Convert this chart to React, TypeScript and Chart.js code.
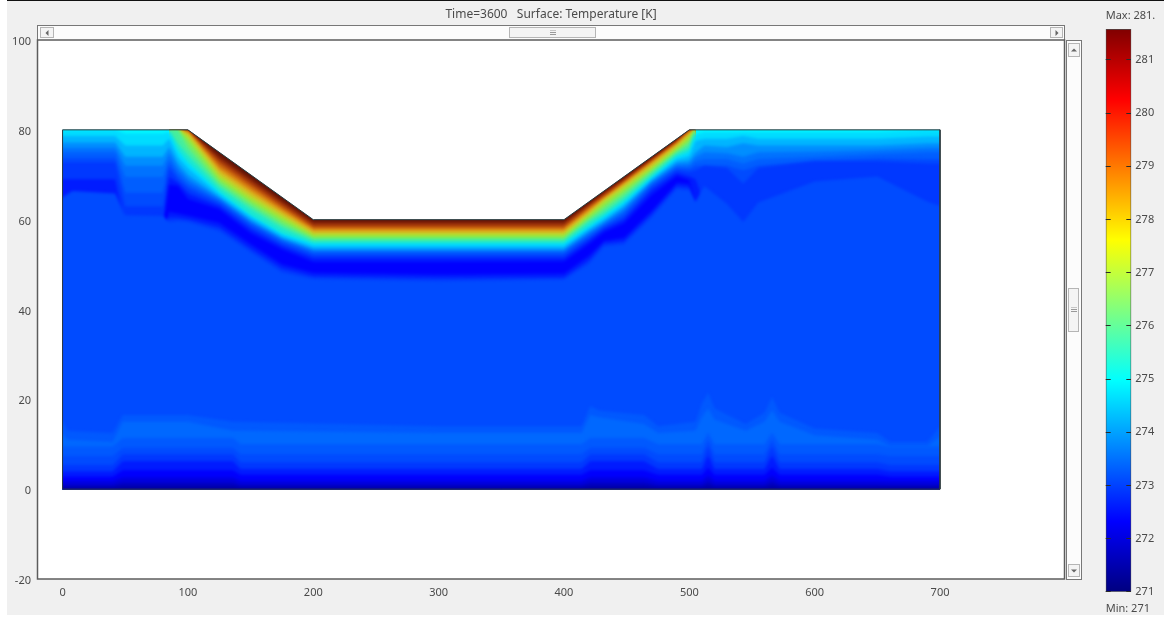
import React, { useEffect, useRef } from "react";
import { Chart, registerables } from "chart.js";

Chart.register(...registerables);

const FONT = '"Noto Sans", "Open Sans", sans-serif';
const INK = "#4a4a4a";

const titleText = "Time=3600   Surface: Temperature [K]";
const maxText = "Max: 281.";
const minText = "Min: 271";
const colorMin = 271;
const colorMax = 281.58;

// Outline of the embankment section
const outlineX = [0, 0, 100, 200, 400, 500, 700, 700, 0];
const outlineY = [0, 80, 80, 60, 60, 80, 80, 0, 0];

// Isotherm heights (y) at irregular stations, upper hot skin
const hotStations = [85, 92, 100, 125, 150, 175, 200, 300, 400, 420, 432, 448, 470, 490, 500, 505];
const hot281_5 = [82.5, 82.5, 82.5, 77.5, 72.5, 67.5, 62.6, 62.6, 62.6, 66.5, 68.9, 72.1, 76.5, 80.5, 82.5, 82.5];
const hot281_0 = [80, 80, 80, 74.3, 69.3, 64.4, 59.6, 59.6, 59.6, 63.6, 66.1, 69.3, 73.7, 77.8, 80, 80];
const hot280_5 = [80, 80, 79.9, 73.7, 68.8, 63.9, 59.2, 59.2, 59.2, 63.3, 65.8, 69, 73.5, 77.6, 79.9, 80];
const hot280_0 = [80, 80, 79.8, 73.1, 68.2, 63.4, 58.7, 58.7, 58.7, 63, 65.5, 68.7, 73.2, 77.4, 79.8, 80];
const hot279_5 = [80, 80, 79.7, 72.5, 67.6, 62.9, 58.3, 58.3, 58.3, 62.7, 65.2, 68.4, 73, 77.2, 79.7, 80];
const hot279_0 = [80, 80, 79.6, 72, 67.2, 62.5, 58, 58, 58, 62.4, 64.9, 68.2, 72.8, 77, 79.5, 80];
const hot278_5 = [80, 80, 79.4, 71.4, 66.6, 62.1, 57.7, 57.7, 57.7, 62.1, 64.7, 68, 72.6, 76.8, 79.3, 80];
const hot278_0 = [80, 80, 79.2, 71, 66.2, 61.7, 57.4, 57.4, 57.4, 61.8, 64.5, 67.8, 72.4, 76.6, 79.1, 80];
const hot277_5 = [80, 80, 79, 70.5, 65.7, 61.3, 57.1, 57.1, 57.1, 61.5, 64.3, 67.6, 72.1, 76.4, 78.9, 80];
const hot277_0 = [80, 80, 78.7, 70, 65.2, 60.9, 56.8, 56.8, 56.8, 61.2, 64.1, 67.3, 71.8, 76.1, 78.6, 80];
const hot276_5 = [80, 80, 78.2, 69.4, 64.6, 60.4, 56.5, 56.5, 56.5, 60.9, 63.7, 66.9, 71.4, 75.8, 78.2, 80];
const hot276_0 = [80, 80, 77.5, 68.8, 64, 59.8, 56.1, 56.1, 56.1, 60.5, 63.1, 66.3, 71, 75.4, 77.6, 80];
const hot275_5 = [80, 80, 76, 68, 63.2, 59, 55.7, 55.7, 55.7, 60, 62.4, 65.6, 70.6, 75, 77, 80];
const hot275_0 = [80, 77, 74.4, 67.2, 62.4, 58.2, 55.2, 55.2, 55.2, 59.5, 61.5, 64.8, 70, 74.6, 76, 79.5];
// Shades as they appear in the thin hot skin of the picture
const hotShades: Record<number, string> = {
  281.5: "#5e1408",
  281: "#7c1e08",
  280.5: "#9a300a",
  280: "#b4480c",
  279.5: "#c8620e",
  279: "#d67e12",
  278.5: "#dc9a18",
  278: "#d8b41e",
  277.5: "#ccc826",
  277: "#b4dc30",
  276.5: "#96e83e",
  276: "#70ee6a",
  275.5: "#46ee9e",
  275: "#1ce8d0",
};

// Cooler isotherms under the surface
const coolStations = [-6, 8, 42, 50, 80, 85, 92, 100, 125, 150, 175, 200, 300, 400, 420, 432, 448, 470, 490, 500, 505, 512, 530, 543, 555, 600, 650, 690, 706];
const overSurface = [82.5, 82.5, 82.5, 82.5, 82.5, 82.5, 82.5, 82.5, 77.5, 72.5, 67.5, 62.5, 62.5, 62.5, 66.5, 68.9, 72.1, 76.5, 80.5, 82.5, 82.5, 82.5, 82.5, 82.5, 82.5, 82.5, 82.5, 82.5, 82.5];
const cool274_6 = [80, 80, 80, 79.2, 79.2, 79.5, 75.5, 72.8, 66.2, 61, 57, 54.7, 54.7, 54.7, 58.5, 60.8, 64, 69.4, 74, 75.2, 79, 79.5, 79.5, 79.6, 79.5, 79.5, 79.5, 80, 80];
const cool274_2 = [78.6, 78.6, 78.6, 76.5, 76.5, 78, 74, 71.5, 65.6, 60.6, 56.5, 54.1, 54.1, 54.1, 58, 60.2, 63.4, 69, 73.4, 74.2, 77.5, 78, 78, 78.6, 78, 78, 78, 78.5, 78.5];
const cool273_8 = [77.2, 77.2, 77.2, 74, 74, 76.2, 72.6, 70, 65, 60, 56, 53.5, 53.5, 53.5, 57.5, 59.6, 62.8, 68.6, 72.8, 73.2, 75, 76.5, 76.2, 77, 76.5, 76.5, 76.5, 77, 77];
const cool273_5 = [76, 76, 76, 72, 72, 74.8, 71.5, 69, 64.6, 59.5, 55.6, 53.1, 53.1, 53.1, 57, 59.2, 62.2, 68.2, 72.2, 72.4, 74, 75, 74.8, 74, 75, 75.2, 75.5, 76, 76];
const cool273_3 = [75, 75, 75, 69.5, 69.5, 73.4, 70.5, 68.2, 64.2, 59.2, 55.3, 52.8, 52.8, 52.8, 56.6, 58.8, 61.7, 67.9, 71.8, 71.8, 73, 73.5, 73.5, 72.5, 73.5, 74, 74.6, 75, 75];
const cool273_1 = [73.8, 73.8, 73.8, 66, 66, 72.4, 69.6, 67.5, 63.9, 58.8, 55, 52.4, 52.4, 52.4, 56.2, 58.5, 61.2, 67.5, 71.4, 71.2, 72, 72, 72, 71, 72, 73, 73.6, 73.5, 73.5];
const cool272_9 = [72.8, 72.8, 72.8, 63, 63, 71.4, 68.9, 66.8, 63.5, 58.4, 54.6, 52, 52, 52, 55.8, 58.2, 60.6, 67.1, 71, 70.6, 71, 72, 71.5, 68, 71.5, 73, 73, 72.5, 72.5];
const cool272_6 = [69, 69, 69, 58, 58, 69.5, 68.2, 65.8, 63, 57.8, 54.1, 51.4, 51.4, 51.4, 55.3, 57.8, 60, 66.5, 70.4, 69.6, 69, 63.5, 59.5, 55.5, 59.8, 64.5, 65.6, 60, 58.5];
const cool272_3 = [61, 63, 63, 58, 58, 67.8, 67.5, 64.6, 62.3, 57, 53.4, 50.6, 50.6, 50.7, 54.6, 57.2, 59.2, 65.5, 69.7, 68.8, 60, 63.5, 59.5, 55.5, 59.8, 64.5, 65.6, 60, 58.5];
const rise272_6 = [61, 63, 63, 58, 58, 61.7, 61.4, 60.9, 59.3, 54.6, 50.1, 48.2, 47.8, 48, 52, 55.3, 56, 62, 68.2, 68, 60, 63.5, 59.5, 55.5, 59.8, 64.5, 65.6, 60, 58.5];
const rise272_9 = [61, 63, 63, 58, 58, 60.5, 60.4, 60.1, 58.3, 53.6, 49.2, 47.4, 47, 47.2, 51, 54.7, 55.2, 61.2, 67.5, 67.2, 60, 63.5, 59.5, 55.5, 59.8, 64.5, 65.6, 60, 58.5];
const rise273_1 = [64, 66.4, 65.8, 61, 60.8, 59.5, 59.7, 59.5, 57.5, 52.8, 48.3, 46.8, 46.3, 46.6, 50.2, 54, 54.5, 60.5, 66.8, 66.5, 64, 67.5, 63.5, 59.5, 63.8, 68.5, 69.6, 64, 62.5];

// Isotherms near the base
const baseStations = [-6, 4, 40, 48, 100, 136, 142, 300, 414, 421, 428, 464, 475, 505, 510, 515, 520, 545, 560, 566, 572, 600, 650, 660, 690, 706];
const bump273_25 = [18, 13, 12.5, 16.5, 16.5, 15, 15, 14, 14, 18.5, 17.5, 16.5, 14, 15, 19, 21.5, 18, 14.5, 17, 20.5, 17, 13.5, 12.5, 10.5, 10.5, 16];
const bump273_4 = [14, 11, 10.5, 15, 15, 13, 13, 12.5, 12.5, 16.5, 16, 14.5, 12.5, 13, 16, 18, 15.5, 13, 15, 17.5, 15, 12, 11, 9.5, 9.5, 13];
const base273_25 = [9.5, 9.5, 9.5, 11.4, 11.4, 11.4, 10, 10, 10, 11.4, 11.4, 11.4, 10, 10, 10, 12.6, 10, 10, 10, 12.6, 10, 10, 10, 9.5, 9.5, 9.5];
const base273_1 = [7.4, 7.4, 7.4, 9.2, 9.2, 9.2, 7.8, 7.8, 7.8, 9.2, 9.2, 9.2, 7.8, 7.8, 7.8, 11, 7.8, 7.8, 7.8, 11, 7.8, 7.8, 7.8, 7.4, 7.4, 7.4];
const base272_9 = [5.4, 5.4, 5.4, 7.8, 7.8, 7.8, 6, 6, 6, 7.8, 7.8, 7.8, 6, 6, 6, 9.6, 6, 6, 6, 9.6, 6, 6, 6, 5.4, 5.4, 5.4];
const base272_6 = [4, 4, 4, 6.2, 6.2, 6.2, 4.5, 4.5, 4.5, 6.2, 6.2, 6.2, 4.5, 4.5, 4.5, 7.5, 4.5, 4.5, 4.5, 7.5, 4.5, 4.5, 4.5, 4, 4, 4];
const base272_3 = [2.8, 2.8, 2.8, 4.2, 4.2, 4.2, 3.2, 3.2, 3.2, 4.2, 4.2, 4.2, 3.2, 3.2, 3.2, 4.8, 3.2, 3.2, 3.2, 4.8, 3.2, 3.2, 3.2, 2.8, 2.8, 2.8];
const base272_0 = [1.8, 1.8, 1.8, 2.6, 2.6, 2.6, 1.9, 1.9, 1.9, 2.6, 2.6, 2.6, 1.9, 1.9, 1.9, 3, 1.9, 1.9, 1.9, 3, 1.9, 1.9, 1.9, 1.8, 1.8, 1.8];
const base271_7 = [0.9, 0.9, 0.9, 1.5, 1.5, 1.5, 1, 1, 1, 1.5, 1.5, 1.5, 1, 1, 1, 1.7, 1, 1, 1, 1.7, 1, 1, 1, 0.9, 0.9, 0.9];
const base271_4 = [0.4, 0.4, 0.4, 0.7, 0.7, 0.7, 0.4, 0.4, 0.4, 0.7, 0.7, 0.7, 0.4, 0.4, 0.4, 0.8, 0.4, 0.4, 0.4, 0.8, 0.4, 0.4, 0.4, 0.4, 0.4, 0.4];

// Paint order: every band floods down past y=0, the next one paints over it
const bands: [number, number[], number[]][] = [
  [274.9, coolStations, overSurface],
  [281.5, hotStations, hot281_5],
  [281.0, hotStations, hot281_0],
  [280.5, hotStations, hot280_5],
  [280.0, hotStations, hot280_0],
  [279.5, hotStations, hot279_5],
  [279.0, hotStations, hot279_0],
  [278.5, hotStations, hot278_5],
  [278.0, hotStations, hot278_0],
  [277.5, hotStations, hot277_5],
  [277.0, hotStations, hot277_0],
  [276.5, hotStations, hot276_5],
  [276.0, hotStations, hot276_0],
  [275.5, hotStations, hot275_5],
  [275.0, hotStations, hot275_0],
  [274.6, coolStations, cool274_6],
  [274.2, coolStations, cool274_2],
  [273.8, coolStations, cool273_8],
  [273.5, coolStations, cool273_5],
  [273.3, coolStations, cool273_3],
  [273.1, coolStations, cool273_1],
  [272.9, coolStations, cool272_9],
  [272.6, coolStations, cool272_6],
  [272.32, coolStations, cool272_3],
  [272.6, coolStations, rise272_6],
  [272.9, coolStations, rise272_9],
  [273.1, coolStations, rise273_1],
  [273.25, baseStations, bump273_25],
  [273.4, baseStations, bump273_4],
  [273.25, baseStations, base273_25],
  [273.1, baseStations, base273_1],
  [272.9, baseStations, base272_9],
  [272.6, baseStations, base272_6],
  [272.3, baseStations, base272_3],
  [272.0, baseStations, base272_0],
  [271.7, baseStations, base271_7],
  [271.4, baseStations, base271_4],
];

function jet(f: number): string {
  const c = (v: number) => Math.round(255 * Math.max(0, Math.min(1, v)));
  const r = Math.min(4 * f - 1.5, -4 * f + 4.5);
  const g = Math.min(4 * f - 0.5, -4 * f + 3.5);
  const b = Math.min(4 * f + 0.5, -4 * f + 2.5);
  return `rgb(${c(r)},${c(g)},${c(b)})`;
}
const tempColor = (t: number) => hotShades[t] ?? jet((t - colorMin) / (colorMax - colorMin));

const framePlugin = {
  id: "frame",
  beforeDraw(chart: any) {
    const { ctx, chartArea: a } = chart;
    ctx.save();
    ctx.fillStyle = "#ffffff";
    ctx.fillRect(a.left, a.top, a.right - a.left, a.bottom - a.top);
    ctx.restore();
  },
  // Shade the bands softly, inside the section outline only
  beforeDatasetsDraw(chart: any) {
    const { ctx, scales } = chart;
    ctx.save();
    ctx.beginPath();
    outlineX.forEach((x, i) => {
      const px = scales.x.getPixelForValue(x);
      const py = scales.y.getPixelForValue(outlineY[i]);
      if (i === 0) ctx.moveTo(px, py);
      else ctx.lineTo(px, py);
    });
    ctx.closePath();
    ctx.clip();
    ctx.filter = "blur(1.5px)";
  },
  beforeDatasetDraw(chart: any, args: any) {
    if (args.index === bands.length) chart.ctx.restore();
  },
  afterDraw(chart: any) {
    const { ctx, chartArea: a } = chart;
    ctx.save();
    ctx.strokeStyle = "#5c5c5c";
    ctx.lineWidth = 1.5;
    ctx.strokeRect(a.left, a.top, a.right - a.left, a.bottom - a.top);
    ctx.restore();
  },
};

const box = (s: React.CSSProperties): React.CSSProperties => ({ position: "absolute", boxSizing: "border-box", ...s });
const btn: React.CSSProperties = { background: "#f4f4f4", border: "1px solid #b5b5b5" };
const tri = (dir: "l" | "r" | "u" | "d"): React.CSSProperties => {
  const c = "3px solid transparent";
  const k = "3px solid #666";
  return {
    position: "absolute",
    left: "50%",
    top: "50%",
    transform: "translate(-50%,-50%)",
    width: 0,
    height: 0,
    borderLeft: dir === "r" ? k : dir === "l" ? "none" : c,
    borderRight: dir === "l" ? k : dir === "r" ? "none" : c,
    borderTop: dir === "d" ? k : dir === "u" ? "none" : c,
    borderBottom: dir === "u" ? k : dir === "d" ? "none" : c,
  };
};
const grip: React.CSSProperties = {
  position: "absolute",
  left: "50%",
  top: "50%",
  transform: "translate(-50%,-50%)",
  width: 6,
  height: 5,
  background: "repeating-linear-gradient(to bottom, #999 0 1px, transparent 1px 2px)",
};

export default function App() {
  const mainRef = useRef<HTMLCanvasElement>(null);
  const barRef = useRef<HTMLCanvasElement>(null);

  useEffect(() => {
    const toPts = (xs: number[], ys: number[]) => xs.map((x, i) => ({ x, y: ys[i] }));
    const n = bands.length + 1;
    const datasets: any[] = bands.map(([t, xs, ys], i) => ({
      data: toPts(xs, ys),
      showLine: true,
      pointRadius: 0,
      borderWidth: 0,
      borderColor: "transparent",
      backgroundColor: tempColor(t),
      fill: { value: -5 },
      order: n - i,
    }));
    datasets.push({
      data: toPts(outlineX, outlineY),
      showLine: true,
      pointRadius: 0,
      borderWidth: 1,
      borderColor: "#2e3a3e",
      fill: false,
      order: 0,
    });

    const main = new Chart(mainRef.current!, {
      type: "scatter",
      data: { datasets },
      plugins: [framePlugin],
      options: {
        responsive: false,
        animation: false,
        events: [],
        layout: { padding: { left: 0, right: 99.5, top: 0, bottom: 0 } },
        plugins: {
          legend: { display: false },
          tooltip: { enabled: false },
          title: {
            display: true,
            text: titleText,
            fullSize: false,
            color: INK,
            font: { family: FONT, size: 12, weight: "normal", lineHeight: 1.2 },
            padding: { top: 7.5, bottom: 18.1 },
          },
        },
        scales: {
          x: {
            type: "linear",
            min: -20,
            max: 799.3,
            grid: { display: false, drawTicks: false },
            border: { display: false },
            ticks: { stepSize: 100, includeBounds: false, color: INK, font: { family: FONT, size: 11 }, padding: 7, maxRotation: 0 },
            afterFit(s: any) { s.height = 38; },
          },
          y: {
            type: "linear",
            min: -20,
            max: 100,
            grid: { display: false, drawTicks: false },
            border: { display: false },
            ticks: { stepSize: 20, color: INK, font: { family: FONT, size: 11 }, padding: 6.5, labelOffset: 2 },
            afterFit(s: any) { s.width = 37.5; },
          },
        },
      } as any,
    });

    const bar = new Chart(barRef.current!, {
      type: "bar",
      data: {
        labels: ["T"],
        datasets: [
          {
            data: [[colorMin, colorMax]],
            barPercentage: 1,
            categoryPercentage: 1,
            borderWidth: 1,
            borderColor: "#4a4a4a",
            borderSkipped: false,
            backgroundColor(c: any) {
              const a = c.chart.chartArea;
              if (!a) return "#000";
              const g = c.chart.ctx.createLinearGradient(0, a.bottom, 0, a.top);
              for (const f of [0, 0.125, 0.375, 0.625, 0.875, 1]) g.addColorStop(f, jet(f));
              return g;
            },
          },
        ],
      } as any,
      options: {
        responsive: false,
        animation: false,
        events: [],
        layout: { padding: { left: 0.7, right: 0, top: 0, bottom: 0 } },
        plugins: {
          legend: { display: false },
          tooltip: { enabled: false },
          title: {
            display: true,
            text: maxText,
            align: "start",
            fullSize: true,
            color: INK,
            font: { family: FONT, size: 11, weight: "normal", lineHeight: 1.2 },
            padding: { top: 9, bottom: 6.8 },
          },
          subtitle: {
            display: true,
            position: "bottom",
            text: minText,
            align: "start",
            fullSize: true,
            color: INK,
            font: { family: FONT, size: 11, weight: "normal", lineHeight: 1.2 },
            padding: { top: 10, bottom: 2 },
          },
        },
        scales: {
          x: { display: false },
          y: {
            position: "right",
            min: colorMin,
            max: colorMax,
            grid: { drawTicks: false, z: 1, color: "#2a2a2a", lineWidth: 1 },
            border: { display: false, dash: [5, 15.6] },
            ticks: { stepSize: 1, includeBounds: false, color: INK, font: { family: FONT, size: 11 }, padding: 4, labelOffset: 0 },
            afterFit(s: any) { s.width = 32.7; },
          },
        },
      } as any,
    });

    return () => {
      main.destroy();
      bar.destroy();
    };
  }, []);

  return (
    <div style={{ position: "fixed", left: 0, top: 0, width: 1164, height: 617, background: "#ffffff", overflow: "hidden", filter: "blur(0.6px)" }}>
      <div style={box({ left: 7, top: 0, width: 1157, height: 615, background: "#f0f0f0", borderTop: "1px solid #111" })} />
      {/* horizontal scroll bar */}
      <div style={box({ left: 37, top: 25, width: 1028, height: 16, background: "#fcfcfc", border: "1.5px solid #777" })} />
      <div style={box({ left: 40, top: 27, width: 14, height: 11, ...btn })}><div style={tri("l")} /></div>
      <div style={box({ left: 509, top: 27, width: 87, height: 11, ...btn })}><div style={grip} /></div>
      <div style={box({ left: 1050, top: 27, width: 13, height: 11, ...btn })}><div style={tri("r")} /></div>
      {/* vertical scroll bar */}
      <div style={box({ left: 1066, top: 40, width: 16, height: 540, background: "#fcfcfc", border: "1.5px solid #777" })} />
      <div style={box({ left: 1068, top: 43, width: 12, height: 14, ...btn })}><div style={tri("u")} /></div>
      <div style={box({ left: 1068, top: 288, width: 11, height: 44, ...btn })}><div style={grip} /></div>
      <div style={box({ left: 1068, top: 564, width: 12, height: 13, ...btn })}><div style={tri("d")} /></div>
      <canvas ref={mainRef} width={1164} height={617} style={{ position: "absolute", left: 0, top: 0, width: 1164, height: 617 }} />
      <canvas ref={barRef} width={59} height={617} style={{ position: "absolute", left: 1105, top: 0, width: 59, height: 617 }} />
    </div>
  );
}
